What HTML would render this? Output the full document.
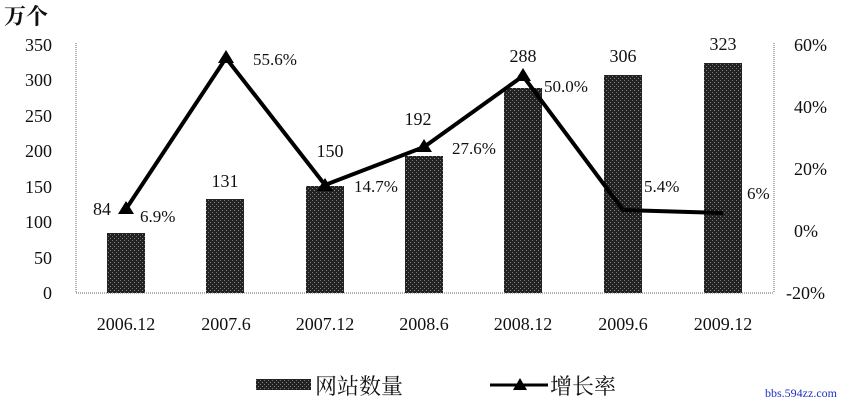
<!DOCTYPE html>
<html><head><meta charset="utf-8"><style>
body{margin:0;background:#fff;}
svg text{font-family:"Liberation Serif","Noto Serif CJK SC",serif;fill:#111;}
</style></head><body>
<svg width="854" height="404" viewBox="0 0 854 404" xmlns="http://www.w3.org/2000/svg">
<defs><pattern id="p" width="4" height="4" patternUnits="userSpaceOnUse"><rect width="4" height="4" fill="#222"/><rect x="0" y="0" width="1" height="1" fill="#777"/><rect x="2" y="2" width="1" height="1" fill="#888"/></pattern></defs>
<text x="4" y="24" font-size="22" font-weight="bold" font-family="Noto Serif CJK SC,serif">万个</text>
<g font-size="18" text-anchor="end">
<text x="52" y="51">350</text><text x="52" y="86">300</text><text x="52" y="122">250</text><text x="52" y="157">200</text><text x="52" y="193">150</text><text x="52" y="228">100</text><text x="52" y="264">50</text><text x="52" y="299">0</text>
</g>
<g font-size="18">
<text x="794" y="51">60%</text><text x="794" y="113">40%</text><text x="794" y="175">20%</text><text x="794" y="237">0%</text><text x="786" y="299">-20%</text>
</g>
<line x1="76" y1="43" x2="76" y2="293" stroke="#666" stroke-dasharray="1,1"/>
<line x1="774" y1="43" x2="774" y2="293" stroke="#666" stroke-dasharray="1,1"/>
<line x1="76" y1="293" x2="774" y2="293" stroke="#666" stroke-dasharray="1,1"/>
<g fill="url(#p)">
<rect x="107" y="233" width="38" height="60"/>
<rect x="206" y="199" width="38" height="94"/>
<rect x="306" y="186" width="38" height="107"/>
<rect x="405" y="156" width="38" height="137"/>
<rect x="504" y="88" width="38" height="205"/>
<rect x="604" y="75" width="38" height="218"/>
<rect x="704" y="63" width="38" height="230"/>
</g>
<polyline points="126,209 226,58 325,185 424,147 523,76 623,210 723,213" fill="none" stroke="#000" stroke-width="4"/>
<g fill="#000">
<polygon points="126,201 118,214 134,214"/><polygon points="226,50 218,63 234,63"/><polygon points="325,178 317,191 333,191"/><polygon points="424,139 416,152 432,152"/><polygon points="523,68 515,81 531,81"/>
</g>
<g font-size="18" text-anchor="middle">
<text x="102" y="215">84</text><text x="225" y="187">131</text><text x="330" y="157">150</text><text x="418" y="125">192</text><text x="523" y="62">288</text><text x="623" y="62">306</text><text x="723" y="50">323</text>
</g>
<g font-size="17">
<text x="140" y="222">6.9%</text><text x="253" y="65">55.6%</text><text x="354" y="192">14.7%</text><text x="452" y="154">27.6%</text><text x="544" y="92">50.0%</text><text x="644" y="192">5.4%</text><text x="747" y="199">6%</text>
</g>
<g font-size="18" text-anchor="middle">
<text x="126" y="330">2006.12</text><text x="226" y="330">2007.6</text><text x="325" y="330">2007.12</text><text x="424" y="330">2008.6</text><text x="523" y="330">2008.12</text><text x="623" y="330">2009.6</text><text x="723" y="330">2009.12</text>
</g>
<rect x="256" y="379" width="55" height="11" fill="url(#p)"/>
<text x="315" y="394" font-size="22" font-family="Noto Serif CJK SC,serif">网站数量</text>
<line x1="490" y1="385" x2="548" y2="385" stroke="#000" stroke-width="3"/>
<polygon points="520,378 513,390 527,390" fill="#000"/>
<text x="550" y="394" font-size="22" font-family="Noto Serif CJK SC,serif">增长率</text>
<text x="765" y="397" font-size="12" font-family="Liberation Sans,sans-serif" style="fill:#2030c0">bbs.594zz.com</text>
</svg>
</body></html>
